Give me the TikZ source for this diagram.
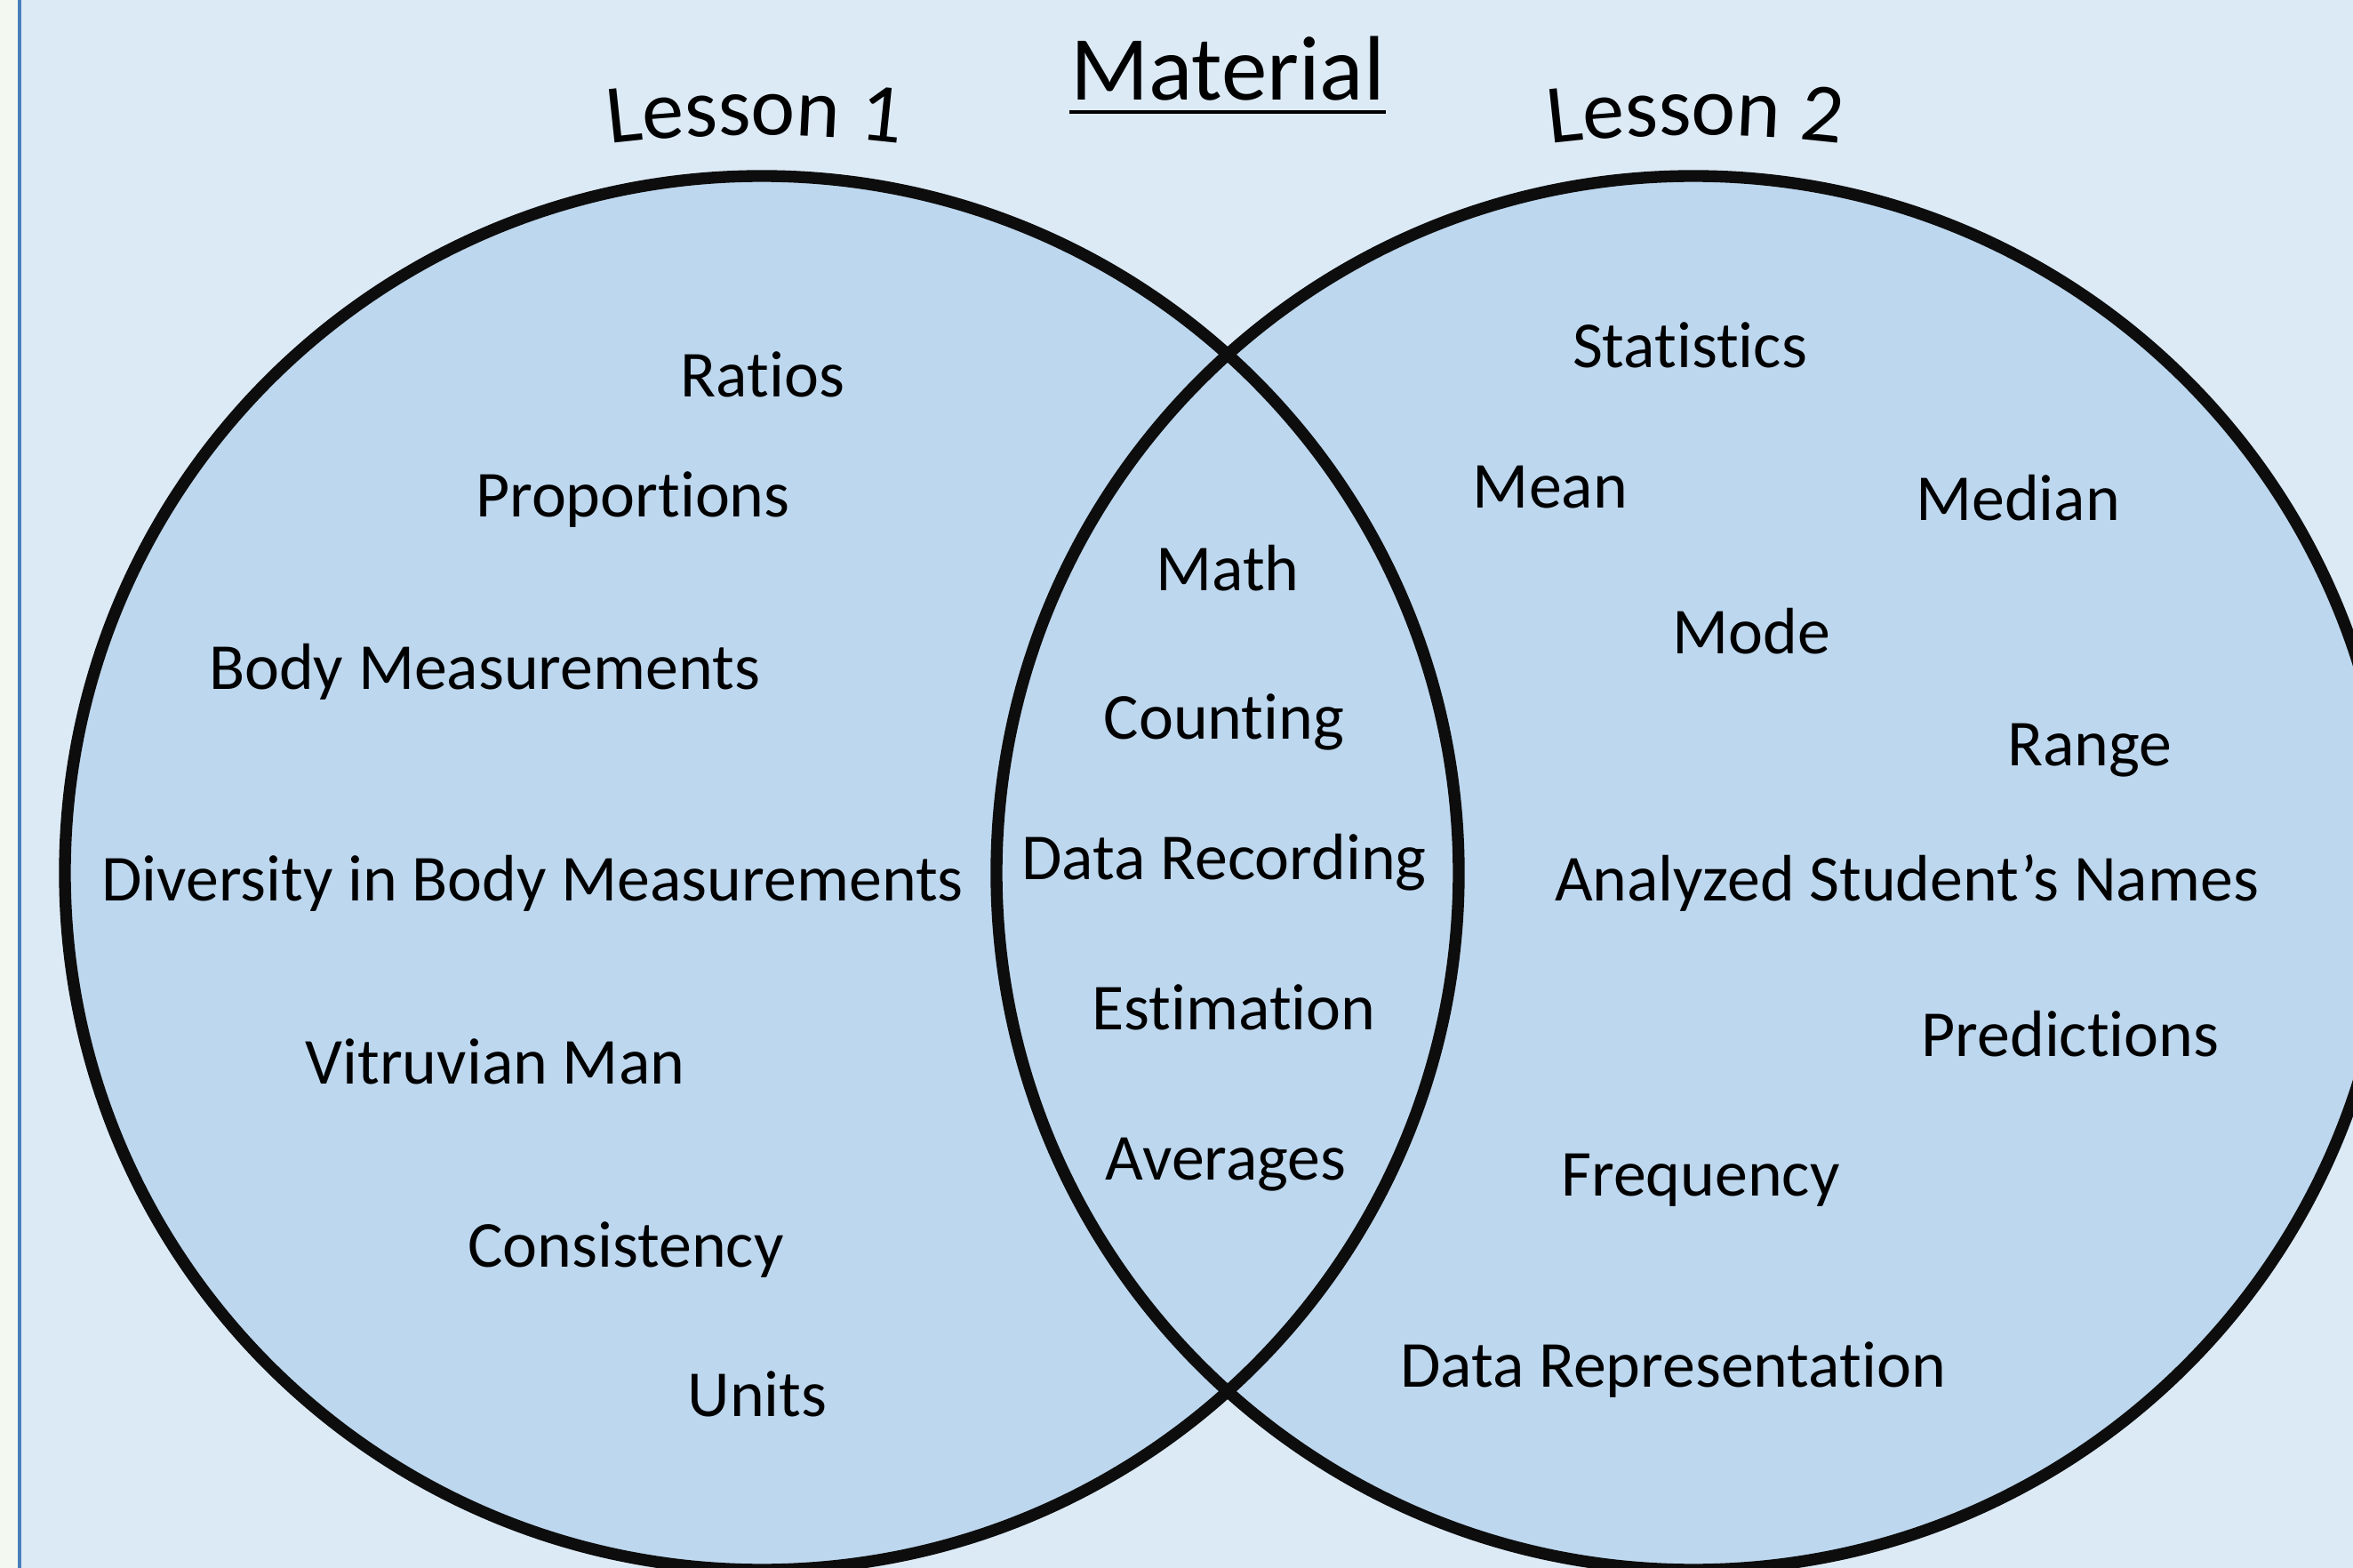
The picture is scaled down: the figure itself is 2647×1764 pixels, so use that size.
\documentclass[tikz,border=0pt]{standalone}
\usepackage{fontspec}
\setmainfont{Carlito}[Ligatures=NoCommon]
\usepackage{xcolor}
\usepackage{tikz}
\usetikzlibrary{decorations.text}
\definecolor{pagebg}{RGB}{220,234,246}
\definecolor{stripbg}{RGB}{243,248,240}
\definecolor{stripline}{RGB}{74,126,187}
\definecolor{setfill}{RGB}{189,215,238}
\definecolor{ringline}{RGB}{13,13,13}

\begin{document}
\begin{tikzpicture}[x=0.01cm,y=-0.01cm]
	\tikzstyle{every node}=[inner sep=0pt,text=black]
	\tikzstyle{word}=[anchor=base,font=\fontsize{21}{25}\selectfont]
	\tikzstyle{ring}=[draw=ringline,line width=3.8pt]
	\tikzstyle{arch}=[decorate,decoration={text along path,text align=center,text format delimiters={|}{|}}]
	\useasboundingbox (0,0) rectangle (2647,1764);
	\clip (0,0) rectangle (2647,1764);
	% page
	\fill[pagebg] (0,0) rectangle (2647,1764);
	\fill[stripbg] (0,0) rectangle (21,1764);
	\draw[stripline,line width=1.4pt] (22,0) -- (22,1764);
	% the two sets
	\coordinate (cL) at (857,982);
	\coordinate (cR) at (1905,982);
	\fill[setfill] (cL) circle (784);
	\fill[setfill] (cR) circle (784);
	\draw[ring] (cL) circle (784);
	\draw[ring] (cR) circle (784);
	% headings
	\node (title) [anchor=base,font=\fontsize{29.3}{33}\selectfont] at (1381,113) {Material};
	\draw[line width=1.2pt] ([yshift=-3.6pt]title.base west) -- ([yshift=-3.6pt]title.base east);
	\path[arch,decoration={text={|\fontsize{26.8}{30}\selectfont|Lesson 1}}]
		(849,1512) ++(-99:1360) arc (-99:-81:1360);
	\path[arch,decoration={text={|\fontsize{26.8}{30}\selectfont|Lesson 2}}]
		(1907,1512) ++(-99:1360) arc (-99:-81:1360);
	% lesson 1
	\node (ratio) [word] at (858,447) {Ratios};
	\node (prop)  [word] at (712,582) {Proportions};
	\node (body)  [word] at (545,776) {Body Measurements};
	\node (div)   [word] at (599,1014) {Diversity in Body Measurements};
	\node (vitr)  [word] at (557,1219) {Vitruvian Man};
	\node (cons)  [word] at (704,1425) {Consistency};
	\node (unit)  [word] at (852,1593) {Units};
	% both
	\node (math)  [word] at (1381,665) {Math};
	\node (count) [word] at (1377,832) {Counting};
	\node (drec)  [word] at (1377,989) {Data Recording};
	\node (est)   [word] at (1388,1158) {Estimation};
	\node (avg)   [word] at (1379,1327) {Averages};
	% lesson 2
	\node (stat)  [word] at (1901,414) {Statistics};
	\node (mean)  [word] at (1744,572) {Mean};
	\node (med)   [word] at (2270,586) {Median};
	\node (mode)  [word] at (1970,736) {Mode};
	\node (range) [word] at (2351,861) {Range};
	\node (names) [word] at (2145,1014) {Analyzed Student’s Names};
	\node (pred)  [word] at (2329,1188) {Predictions};
	\node (freq)  [word] at (1913,1345) {Frequency};
	\node (drep)  [word] at (1882,1560) {Data Representation};
\end{tikzpicture}
\end{document}
